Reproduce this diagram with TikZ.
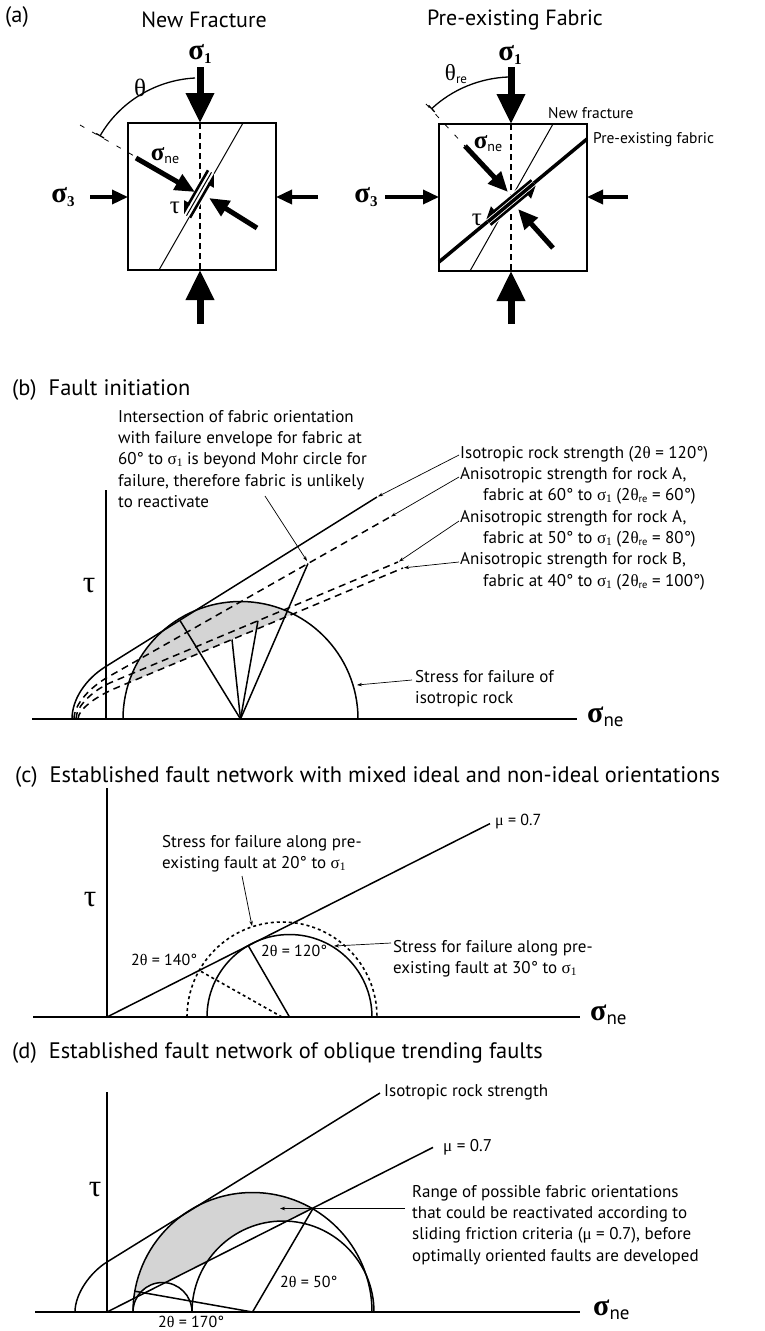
\documentclass[tikz,border=0pt]{standalone}
\usepackage{fontspec}
\setmainfont{PT Sans}
\newfontfamily\gk{Liberation Serif}
\usetikzlibrary{arrows.meta}
\newcommand{\lsub}[2]{\raisebox{-0.12em}{\fontsize{#1}{#1}\selectfont #2}}
\newcommand{\ssub}[2]{\raisebox{-0.12em}{\normalfont\fontsize{#1}{#1}\selectfont #2}}
\newcommand{\gsig}{{\gk σ}}
\newcommand{\gth}{{\gk θ}}
\newcommand{\gmu}{{\gk μ}}
\newcommand{\lone}{{\gk\lsub{11.5}{1}}}
\newcommand{\lre}{\ssub{10.5}{re}}
\begin{document}
\begin{tikzpicture}[x=1pt,y=-1pt,
  ttl/.style={font=\fontsize{22.4}{26}\selectfont, anchor=west, inner sep=0pt},
  hd/.style={font=\fontsize{22}{26}\selectfont, inner sep=0pt},
  lab/.style={font=\fontsize{17}{21.3}\selectfont, align=left, anchor=north west, inner sep=0pt},
  one/.style={font=\fontsize{16}{20}\selectfont, anchor=west, inner sep=0pt},
  sm/.style={font=\fontsize{15.5}{18}\selectfont, anchor=west, inner sep=0pt},
  big/.style={font=\gk\bfseries\fontsize{29}{29}\selectfont, inner sep=0pt},
  gsym/.style={font=\gk\fontsize{25}{25}\selectfont, inner sep=0pt},
  axl/.style={font=\gk\bfseries\fontsize{30}{30}\selectfont, anchor=west, inner sep=0pt},
  taul/.style={font=\gk\fontsize{31}{31}\selectfont, inner sep=0pt},
  axis/.style={line width=2pt},
  main/.style={line width=1.5pt},
  env/.style={line width=1.5pt, dash pattern=on 7pt off 5pt},
  dotc/.style={line width=1.6pt, dash pattern=on 3pt off 3pt},
  leader/.style={line width=0.7pt, -{Stealth[length=5pt,width=3.5pt]}},
  boxl/.style={line width=2pt},
  vdash/.style={line width=1.5pt, dash pattern=on 6pt off 4pt},
  thinl/.style={line width=1pt},
  bigarrow/.style={line width=7pt, -{Triangle[length=30pt,width=27pt]}},
  medarrow/.style={line width=3.5pt, -{Triangle[length=16pt,width=14pt]}},
  nearrow/.style={line width=5pt, -{Triangle[length=20pt,width=17pt]}},
  shear/.style={line width=2.6pt, -{Triangle[harpoon,swap,length=10pt,width=11pt]}},
  shade/.style={fill=black!17},
]
\useasboundingbox (0,0) rectangle (764,1331);

% ================= (a) =================
\node[ttl] (alab) at (5,17) {(a)};
\node[hd] (t1) at (204,20) {New Fracture};
\node[hd] (t2) at (515,20) {Pre-existing Fabric};

% left box
\draw[vdash] (200,123) -- (200,270);
\draw[boxl] (128,123) rectangle (276,270);
\draw[thinl] (159,270) -- (243,123);
\draw[bigarrow] (200,67) -- (200,123);
\draw[bigarrow] (200,324) -- (200,270);
\draw[medarrow] (90,197) -- (128,197);
\draw[medarrow] (318,197) -- (276,197);
\draw[line width=1.3pt, -{Bar[width=9pt]}] (195,78) arc[start angle=-93, end angle=-150, radius=117];
\draw[line width=0.8pt, dash pattern=on 5pt off 9pt] (80,125) -- (136,157);
\draw[white, line width=13pt] (186.5,215.7) -- (211.5,172.3);
\draw[thinl] (186.5,215.7) -- (211.5,172.3);
\draw[shear] (208,170.3) -- (183,213.7);
\draw[shear] (190,217.7) -- (215,174.3);
\draw[nearrow] (136,158) -- (195,192);
\draw[nearrow] (257,228) -- (209,198);
\node[big] (s1a) at (200,54) {σ\lsub{15}{1}};
\node[big] (s3a) at (63,197) {σ\lsub{15}{3}};
\node[font=\gk\bfseries\fontsize{25}{25}\selectfont, inner sep=0pt] (snea) at (165,156) {σ\ssub{14}{ne}};
\node[gsym] (tha) at (140,88) {θ};
\node[gsym] (taua) at (175,208) {τ};

% right box
\draw[vdash] (511,124) -- (511,271);
\draw[boxl] (439,124) rectangle (587,271);
\draw[thinl] (470,271) -- (553,124);
\draw[line width=3.5pt] (439,262) -- (587,139);
\draw[bigarrow] (511,67) -- (511,124);
\draw[bigarrow] (511,324) -- (511,271);
\draw[medarrow] (385,197) -- (439,197);
\draw[medarrow] (628,197) -- (587,197);
\draw[line width=1.3pt, -{Bar[width=9pt]}] (508,77) arc[start angle=-92.4, end angle=-133, radius=120];
\draw[line width=0.8pt, dash pattern=on 5pt off 9pt] (426,104) -- (465,146);
\draw[white, line width=13pt] (487.9,221.7) -- (534.1,183.3);
\draw[line width=3.5pt] (487.9,221.7) -- (534.1,183.3);
\draw[white, line width=1.2pt] (485,219) -- (531,181);
\draw[white, line width=1.2pt] (491,224.5) -- (537,186.5);
\draw[shear] (531.5,180.2) -- (485.3,218.6);
\draw[shear] (490.5,224.8) -- (536.7,186.4);
\draw[nearrow] (465,146) -- (508,192);
\draw[nearrow] (553,248) -- (518,209);
\node[big] (s1b) at (510,55) {σ\lsub{15}{1}};
\node[big] (s3b) at (366,197) {σ\lsub{15}{3}};
\node[font=\gk\bfseries\fontsize{25}{25}\selectfont, inner sep=0pt] (sneb) at (488,144) {σ\ssub{14}{ne}};
\node[font=\gk\fontsize{23}{23}\selectfont, inner sep=0pt] (thb) at (456,74) {θ\ssub{13}{re}};
\node[gsym] (taub) at (477,220) {τ};
\node[sm] (nfl) at (548,113) {New fracture};
\node[sm] (pfl) at (593,140) {Pre-existing fabric};

% ================= (b) =================
\node[ttl] (blab) at (12,390) {(b)\hspace{12pt}Fault initiation};
\begin{scope}
  \clip (123,719) arc[start angle=180, end angle=360, radius=117.5] -- cycle;
  \fill[shade] (100,694.7) -- (420,560.9) -- (420,500) -- (100,500) -- cycle;
\end{scope}
\draw[axis] (106,490) -- (106,719);
\draw[axis] (32,719) -- (577,719);
\node[axl] (bsn) at (587,717) {σ\ssub{19}{ne}};
\node[taul] (btau) at (89,586) {τ};
\draw[main] (123,719) arc[start angle=180, end angle=360, radius=117.5];
\coordinate (bc) at (240.5,719);
\draw[main] (bc) -- (180,620.5);
\draw[main] (bc) -- (232,639.5);
\draw[main] (bc) -- (258,620.7);
\draw[main] (bc) -- (308,563.5);
\draw[main] (72,719) .. controls (72,699) and (86,679) .. (105,667) -- (377,497);
\draw[env] (74,719) .. controls (74,704) and (90.6,686.9) .. (108,677) -- (390,517);
\draw[env] (76,719) .. controls (76,706) and (93.6,689.7) .. (112,682) -- (398,562);
\draw[env] (78,719) .. controls (78,709) and (97.5,695.7) .. (116,688) -- (403,568);
\node[lab] (bint) at (118,410) {Intersection of fabric orientation\\with failure envelope for fabric at\\60° to \gsig\lone{} is beyond Mohr circle for\\failure, therefore fabric is unlikely\\to reactivate};
\draw[leader] (265,496) -- (307,561);
\node[lab] (biso) at (460,446) {Isotropic rock strength (2\gth{} = 120°)\\Anisotropic strength for rock A,\\\hspace*{23pt}fabric at 60° to \gsig\lone{} (2\gth\lre{} = 60°)\\Anisotropic strength for rock A,\\\hspace*{23pt}fabric at 50° to \gsig\lone{} (2\gth\lre{} = 80°)\\Anisotropic strength for rock B,\\\hspace*{23pt}fabric at 40° to \gsig\lone{} (2\gth\lre{} = 100°)};
\draw[leader] (459,455) -- (378,496.5);
\draw[leader] (459,477) -- (391,516.5);
\draw[leader] (459,521) -- (399,561.5);
\draw[leader] (459,562) -- (404,567.8);
\node[lab] (bstr) at (415,670) {Stress for failure of\\isotropic rock};
\draw[leader] (412,680) -- (357,685);

% ================= (c) =================
\node[ttl] (clab) at (15,777) {(c)\hspace{12pt}Established fault network with mixed ideal and non-ideal orientations};
\draw[axis] (107,788) -- (107,1017);
\draw[axis] (33,1017) -- (580,1017);
\node[axl] (csn) at (590,1015) {σ\ssub{19}{ne}};
\node[taul] (ctau) at (90,900) {τ};
\draw[main] (207,1017) arc[start angle=180, end angle=360, radius=82.5];
\draw[dotc] (187,1017) arc[start angle=180, end angle=360, radius=95];
\draw[main] (107,1017) -- (490,823.6);
\draw[main] (289.5,1017) -- (248.25,945.6);
\draw[dotc] (282,1017) -- (199.2,970.4);
\node[one] (c140) at (131,960) {2\gth{} = 140°};
\node[one] (c120) at (261,951) {2\gth{} = 120°};
\node[one] (cmu) at (495,822) {\gmu{} = 0.7};
\node[lab] (cl1) at (162,835) {Stress for failure along pre-\\existing fault at 20° to \gsig\lone};
\draw[leader] (242,876) -- (252,926);
\node[lab] (cl2) at (393,940) {Stress for failure along pre-\\existing fault at 30° to \gsig\lone};
\draw[leader] (391,943) -- (334,946);

% ================= (d) =================
\node[ttl] (dlab) at (12,1053) {(d)\hspace{12pt}Established fault network of oblique trending faults};
\begin{scope}
  \clip (133,1312) arc[start angle=180, end angle=360, radius=119.5] -- cycle;
  \clip (100,1315.5) -- (440,1143.8) -- (440,1080) -- (100,1080) -- cycle;
  \fill[shade, even odd rule] (100,1080) rectangle (440,1320) (283,1312) circle (91) (162.5,1312) circle (29.5);
\end{scope}
\draw[axis] (107,1092) -- (107,1312);
\draw[axis] (35,1312) -- (580,1312);
\node[axl] (dsn) at (593,1310) {σ\ssub{19}{ne}};
\node[taul] (dtau) at (95,1190) {τ};
\draw[main] (133,1312) arc[start angle=180, end angle=360, radius=119.5];
\draw[main] (192,1312) arc[start angle=180, end angle=360, radius=91];
\draw[main] (133,1312) arc[start angle=180, end angle=360, radius=29.5];
\draw[main] (75,1312) .. controls (75,1294) and (90,1272.5) .. (107,1262) -- (380,1093);
\draw[main] (107,1312) -- (433,1147.4);
\draw[main] (252.5,1312) -- (134.8,1291.2);
\draw[main] (252.5,1312) -- (313,1208.5);
\draw[leader] (405,1208.5) -- (280,1208.5);
\node[one] (d50) at (280,1282) {2\gth{} = 50°};
\node[one] (d170) at (158,1322) {2\gth{} = 170°};
\node[lab, anchor=west] (diso) at (384,1092) {Isotropic rock strength};
\node[lab, anchor=west] (dmu) at (443,1147) {\gmu{} = 0.7};
\node[lab] (drng) at (412,1185) {Range of possible fabric orientations\\that could be reactivated according to\\sliding friction criteria (\gmu{} = 0.7), before\\optimally oriented faults are developed};
\end{tikzpicture}
\end{document}
